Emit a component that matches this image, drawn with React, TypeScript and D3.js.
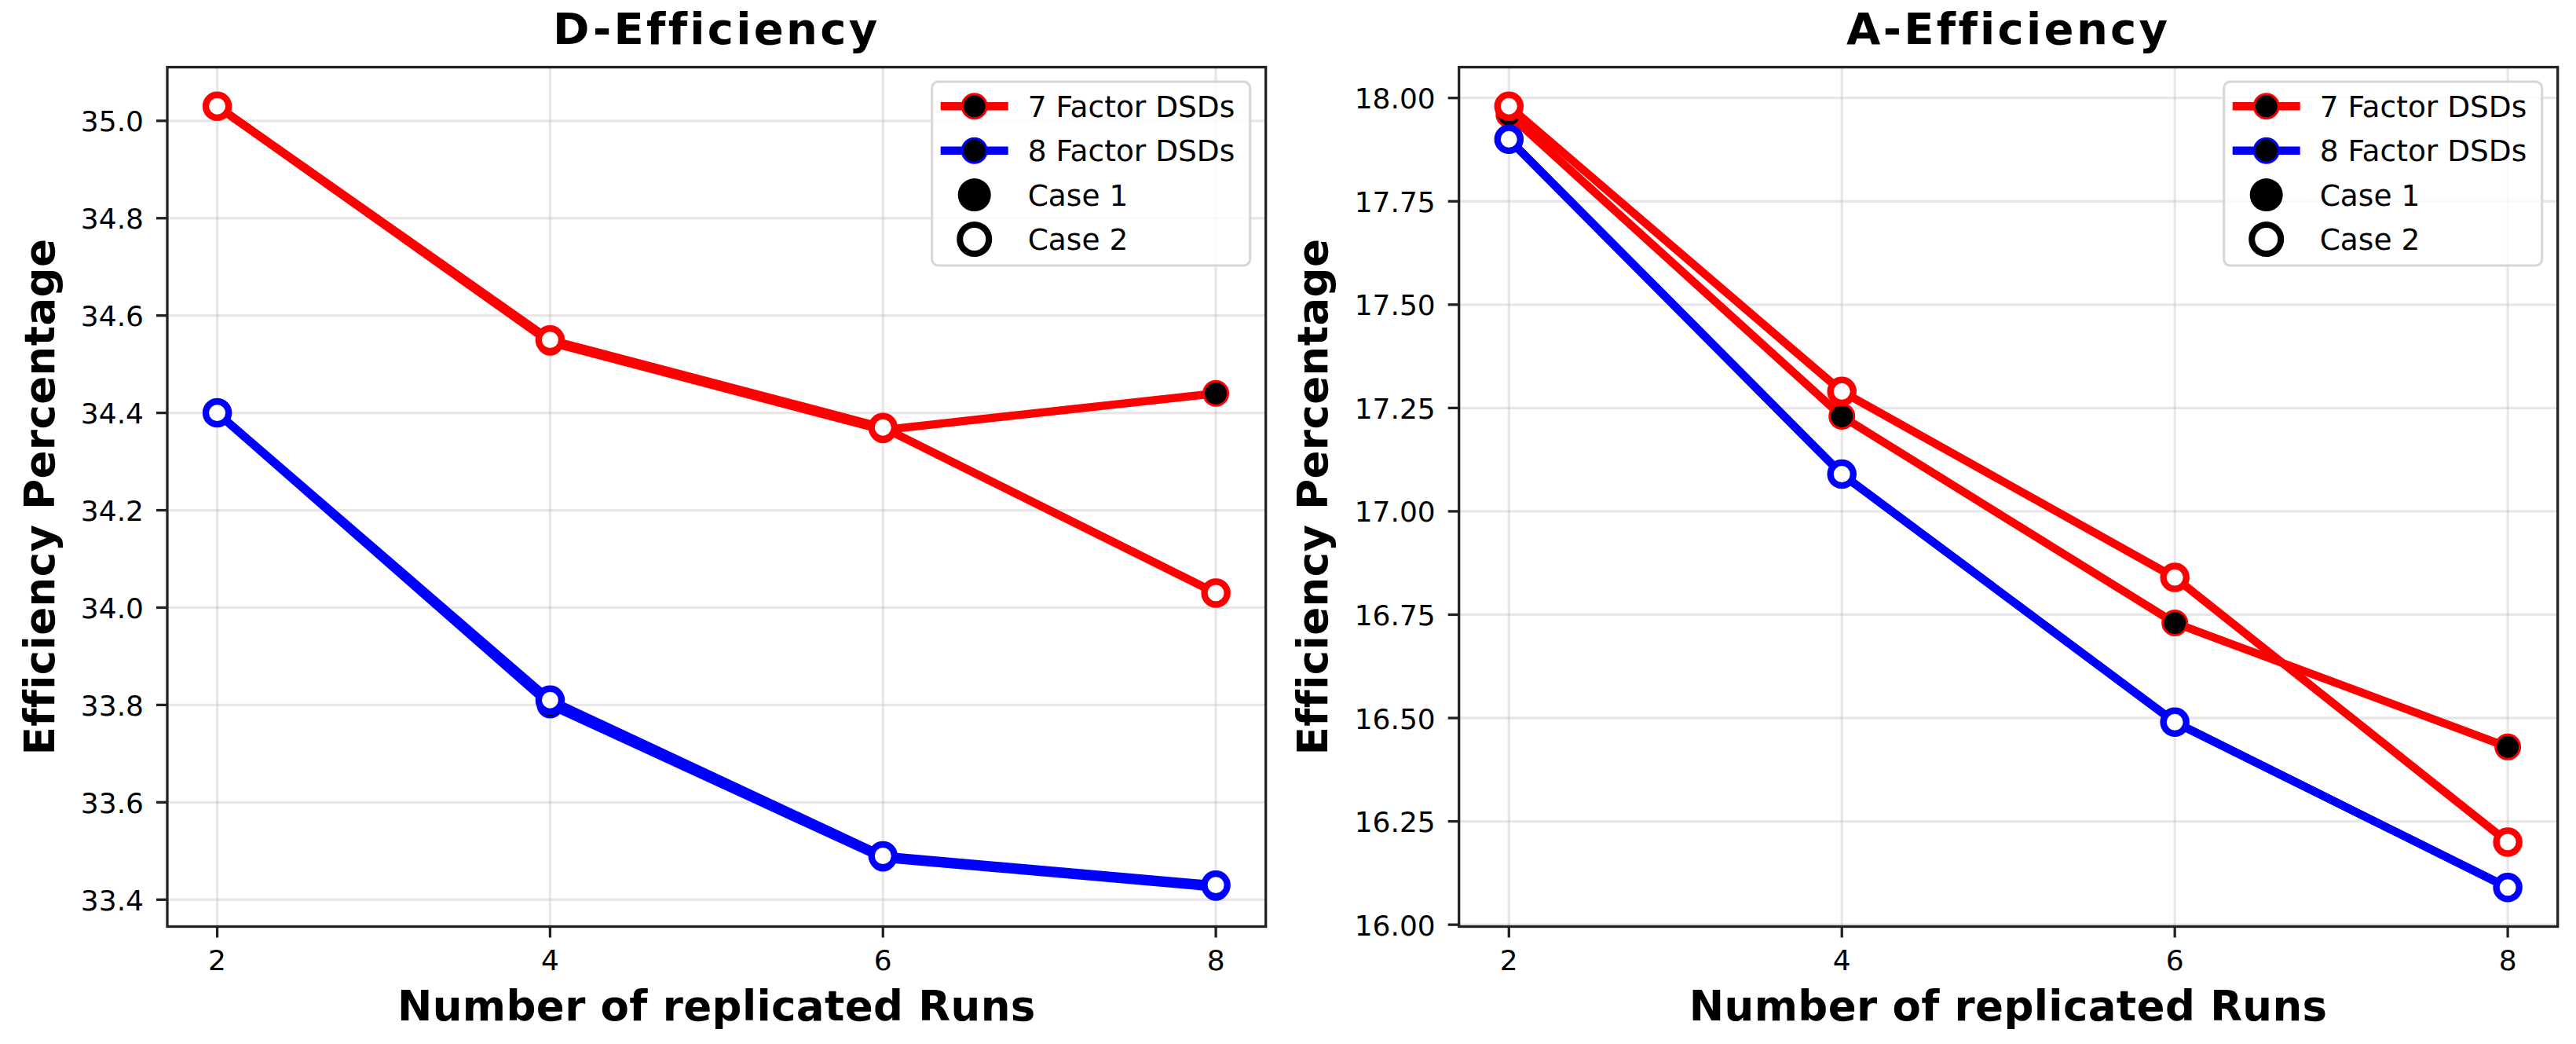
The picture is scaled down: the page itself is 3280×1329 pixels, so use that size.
import * as d3 from 'd3'

// x: number of replicated runs
const runs = [2, 4, 6, 8]

// D-Efficiency values
const dEff7Case1 = [35.03, 34.545, 34.365, 34.44]
const dEff7Case2 = [35.03, 34.55, 34.37, 34.03]
const dEff8Case1 = [34.4, 33.8, 33.485, 33.425]
const dEff8Case2 = [34.4, 33.81, 33.49, 33.43]

// A-Efficiency values
const aEff7Case1 = [17.96, 17.23, 16.73, 16.43]
const aEff7Case2 = [17.98, 17.29, 16.84, 16.2]
const aEff8Case1 = [17.9, 17.09, 16.49, 16.09]
const aEff8Case2 = [17.9, 17.09, 16.49, 16.09]

const xTicks = [2, 4, 6, 8]
const dTicks = [33.4, 33.6, 33.8, 34.0, 34.2, 34.4, 34.6, 34.8, 35.0]
const aTicks = [16.0, 16.25, 16.5, 16.75, 17.0, 17.25, 17.5, 17.75, 18.0]
const legendLabels = ['7 Factor DSDs', '8 Factor DSDs', 'Case 1', 'Case 2']

const W = 3280
const H = 1329
const FONT = '"DejaVu Sans", sans-serif'
const DARK = '#222'

type Series = { values: number[]; color: string; filled: boolean }

type PanelProps = {
  title: string
  series: Series[]
  yTicks: number[]
  yFormat: (v: number) => string
  left: number
  right: number
  ylabelX: number
}

const top = 85.5
const bottom = 1179.5

// pad an extent by 5% like matplotlib autoscale
function padded(vals: number[]): [number, number] {
  const [lo, hi] = d3.extent(vals) as [number, number]
  const p = (hi - lo) * 0.05
  return [lo - p, hi + p]
}

function Panel({ title, series, yTicks, yFormat, left, right, ylabelX }: PanelProps) {
  const x = d3.scaleLinear(padded(runs), [left, right])
  const y = d3.scaleLinear(padded(series.flatMap((s) => s.values)), [bottom, top])

  const line = d3
    .line<number>()
    .x((_, i) => x(runs[i]))
    .y((d) => y(d))

  const cx = (left + right) / 2
  const cy = (top + bottom) / 2

  // legend
  const lgW = 405
  const lgH = 234
  const lgX = right - 20 - lgW
  const lgY = top + 18.5
  const rowY = (i: number) => lgY + 31.3 + i * 56.4
  const hx = lgX + 54
  const tx = lgX + 122

  return (
    <g>
      {/* grid */}
      {xTicks.map((t) => (
        <line key={'gx' + t} x1={x(t)} x2={x(t)} y1={top} y2={bottom} stroke="#b0b0b0" strokeOpacity={0.3} strokeWidth={3.3} />
      ))}
      {yTicks.map((t) => (
        <line key={'gy' + t} x1={left} x2={right} y1={y(t)} y2={y(t)} stroke="#b0b0b0" strokeOpacity={0.3} strokeWidth={3.3} />
      ))}

      {/* series */}
      {series.map((s, si) => (
        <g key={si}>
          <path d={line(s.values) as string} fill="none" stroke={s.color} strokeWidth={10.4} strokeLinejoin="round" />
          {s.values.map((v, i) =>
            s.filled ? (
              <circle key={i} cx={x(runs[i])} cy={y(v)} r={15.5} fill="black" stroke={s.color} strokeWidth={3} />
            ) : (
              <circle key={i} cx={x(runs[i])} cy={y(v)} r={14.6} fill="white" stroke={s.color} strokeWidth={8.3} />
            )
          )}
        </g>
      ))}

      {/* frame */}
      <rect x={left} y={top} width={right - left} height={bottom - top} fill="none" stroke={DARK} strokeWidth={3.3} />

      {/* x ticks */}
      {xTicks.map((t) => (
        <g key={'xt' + t}>
          <line x1={x(t)} x2={x(t)} y1={bottom} y2={bottom + 14} stroke={DARK} strokeWidth={3.3} />
          <text x={x(t)} y={1235} textAnchor="middle" fontSize={36} fontFamily={FONT}>
            {t}
          </text>
        </g>
      ))}

      {/* y ticks */}
      {yTicks.map((t) => (
        <g key={'yt' + t}>
          <line x1={left - 14} x2={left} y1={y(t)} y2={y(t)} stroke={DARK} strokeWidth={3.3} />
          <text x={left - 30} y={y(t) + 13.5} textAnchor="end" fontSize={36} fontFamily={FONT}>
            {yFormat(t)}
          </text>
        </g>
      ))}

      {/* labels */}
      <text x={cx} y={56} textAnchor="middle" fontSize={56} fontWeight="bold" fontFamily={FONT} letterSpacing={3.3}>
        {title}
      </text>
      <text x={cx} y={1299} textAnchor="middle" fontSize={53} fontWeight="bold" fontFamily={FONT} letterSpacing={0.4}>
        Number of replicated Runs
      </text>
      <text
        transform={`translate(${ylabelX},${cy}) rotate(-90)`}
        textAnchor="middle"
        fontSize={53}
        fontWeight="bold"
        fontFamily={FONT}
        letterSpacing={0.4}
      >
        Efficiency Percentage
      </text>

      {/* legend */}
      <rect x={lgX} y={lgY} width={lgW} height={lgH} rx={8} fill="white" fillOpacity={0.8} stroke="#d6d6d6" strokeWidth={3} />
      {['red', 'blue'].map((c, i) => (
        <g key={c}>
          <line x1={hx - 43} x2={hx + 43} y1={rowY(i)} y2={rowY(i)} stroke={c} strokeWidth={10.4} />
          <circle cx={hx} cy={rowY(i)} r={15.5} fill="black" stroke={c} strokeWidth={3} />
        </g>
      ))}
      <circle cx={hx} cy={rowY(2)} r={21} fill="black" />
      <circle cx={hx} cy={rowY(3)} r={18.5} fill="white" stroke="black" strokeWidth={8} />
      {legendLabels.map((l, i) => (
        <text key={l} x={tx} y={rowY(i) + 13.7} fontSize={37.5} fontFamily={FONT}>
          {l}
        </text>
      ))}
    </g>
  )
}

export default function App() {
  const dSeries: Series[] = [
    { values: dEff7Case1, color: 'red', filled: true },
    { values: dEff7Case2, color: 'red', filled: false },
    { values: dEff8Case1, color: 'blue', filled: true },
    { values: dEff8Case2, color: 'blue', filled: false },
  ]
  const aSeries: Series[] = [
    { values: aEff7Case1, color: 'red', filled: true },
    { values: aEff7Case2, color: 'red', filled: false },
    { values: aEff8Case1, color: 'blue', filled: true },
    { values: aEff8Case2, color: 'blue', filled: false },
  ]
  return (
    <svg
      width={W}
      height={H}
      viewBox={`0 0 ${W} ${H}`}
      style={{ position: 'absolute', left: 0, top: 0, background: 'white' }}
    >
      <rect width={W} height={H} fill="white" />
      <Panel
        title="D-Efficiency"
        series={dSeries}
        yTicks={dTicks}
        yFormat={d3.format('.1f')}
        left={213}
        right={1611.7}
        ylabelX={69}
      />
      <Panel
        title="A-Efficiency"
        series={aSeries}
        yTicks={aTicks}
        yFormat={d3.format('.2f')}
        left={1857.7}
        right={3256.7}
        ylabelX={1690}
      />
    </svg>
  )
}
